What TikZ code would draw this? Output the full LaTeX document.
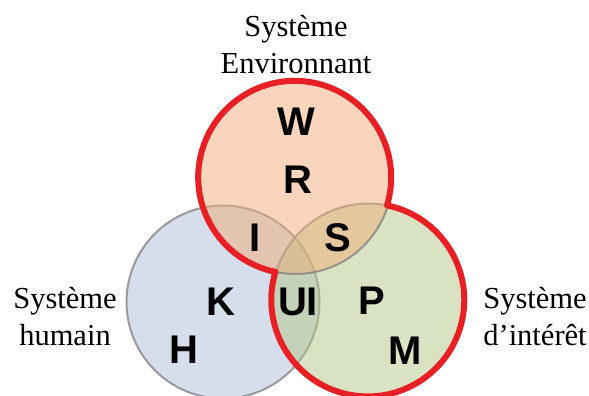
\documentclass[tikz,border=0pt]{standalone}
\usepackage{fontspec}
\setmainfont{Liberation Serif}
\newfontfamily\lettrefont{Liberation Sans}
\usetikzlibrary{positioning}

\definecolor{envfill}{RGB}{241,171,121}
\definecolor{humfill}{RGB}{171,189,213}
\definecolor{sysfill}{RGB}{179,199,137}
\definecolor{contour}{RGB}{232,32,38}
\definecolor{bord}{RGB}{120,120,120}

\begin{document}
\begin{tikzpicture}[x=1pt,y=1pt,
    ensemble/.style={circle, minimum size=193pt, inner sep=0pt, outer sep=0pt,
        fill opacity=0.5, draw=bord, draw opacity=0.7, line width=2pt},
    lettre/.style={font=\lettrefont\bfseries\fontsize{40}{40}\selectfont, inner sep=0pt},
    titre/.style={font=\fontsize{30.5}{37.5}\selectfont, align=center, inner sep=0pt}]
    \useasboundingbox (0,0) rectangle (589,396);

    % Ensembles
    \node[ensemble, fill=humfill] (hum) at (223,94) {};
    \node[ensemble, fill=sysfill] (sys) at (368.5,96) {};
    \node[ensemble, fill=envfill] (env) at (295.5,218.5) {};

    % Contour rouge autour de env et sys
    \draw[contour, line width=6pt, line join=round] (env.258.5)
        arc[start angle=258.5, end angle=-16.9, radius=96.5pt]
        arc[start angle=78.5, end angle=-196.9, radius=96.5pt] -- cycle;

    % Lettres
    \node[lettre] (w) at (296,274) {W};
    \node[lettre] (r) at (298,216) {R};
    \node[lettre] (i) at (255,158) {I};
    \node[lettre] (s) at (337.5,158) {S};
    \node[lettre] (k) at (221,94) {K};
    \node[lettre] (ui) at (298,94) {UI};
    \node[lettre] (p) at (372,95) {P};
    \node[lettre] (h) at (184,46) {H};
    \node[lettre] (m) at (405.5,45) {M};

    % Titres
    \node[titre, anchor=base] (titreenv) at (296,322) {Système\\Environnant};
    \node[titre, anchor=base] (titrehum) at (65,50) {Système\\humain};
    \node[titre, anchor=base] (titresys) at (535,50) {Système\\d’intérêt};
\end{tikzpicture}
\end{document}
